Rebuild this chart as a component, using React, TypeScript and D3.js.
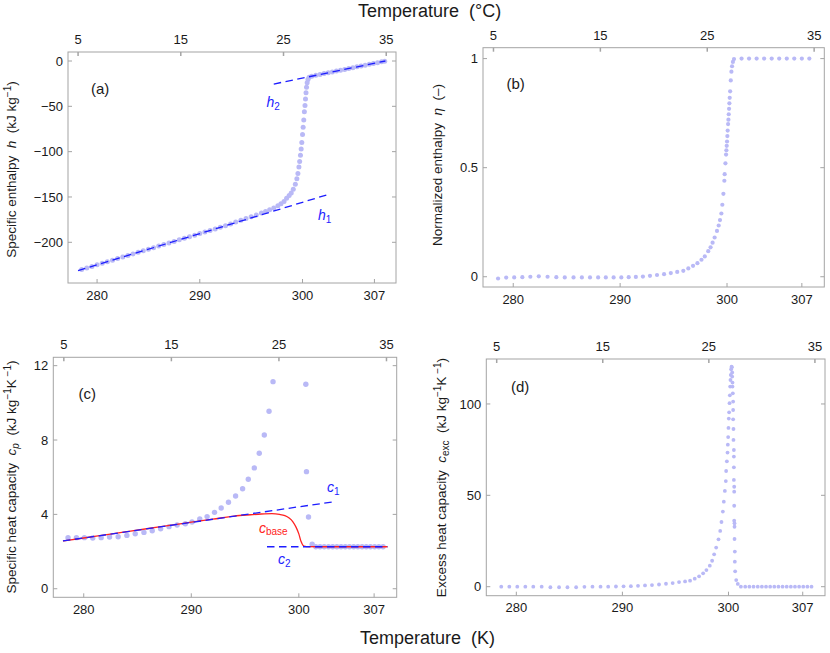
import React from 'react';
import * as d3 from 'd3';

// ---------- shared axis data ----------
const kelvinTicks = [280, 290, 300, 307];
const celsiusTicks = [5, 15, 25, 35];
const X_DOMAIN: [number, number] = [277.17, 309.1];

// ---------- (a) specific enthalpy ----------
const hT = [278.5, 279.0, 279.5, 280.0, 280.5, 281.0, 281.5, 282.0, 282.5, 283.0, 283.5, 284.0, 284.5, 285.0, 285.5, 286.0, 286.5, 287.0, 287.5, 288.0, 288.5, 289.0, 289.5, 290.0, 290.5, 291.0, 291.5, 292.0, 292.5, 293.0, 293.5, 294.0, 294.5, 295.0, 295.5, 296.0, 296.4, 296.8, 297.2, 297.6, 297.9, 298.2, 298.45, 298.7, 298.9, 299.1, 299.3, 299.45, 299.55, 299.65, 299.72, 299.8, 299.87, 299.93, 300.0, 300.06, 300.12, 300.18, 300.24, 300.29, 300.34, 300.39, 300.45, 300.53, 300.64, 300.9, 301.3, 301.7, 302.1, 302.5, 302.9, 303.3, 303.7, 304.1, 304.5, 304.9, 305.3, 305.7, 306.1, 306.5, 306.9, 307.3, 307.7, 308.0];
const hValues = [-230.1, -228.4, -226.6, -224.9, -223.2, -221.5, -219.7, -218.0, -216.3, -214.6, -212.8, -211.1, -209.4, -207.6, -205.9, -204.2, -202.5, -200.7, -199.0, -197.3, -195.6, -193.8, -192.1, -190.4, -188.7, -186.9, -185.2, -183.5, -181.7, -179.7, -177.6, -175.6, -173.7, -171.8, -169.8, -167.8, -166.0, -164.2, -162.2, -159.8, -157.6, -155.0, -151.5, -148.5, -145.5, -141.5, -136.0, -130.0, -124.0, -117.0, -111.0, -104.0, -97.0, -90.0, -81.0, -73.0, -65.0, -56.0, -49.0, -42.0, -35.0, -29.0, -24.0, -20.5, -18.0, -16.7, -15.8, -14.9, -13.9, -13.0, -12.1, -11.1, -10.2, -9.3, -8.3, -7.4, -6.4, -5.5, -4.6, -3.6, -2.7, -1.8, -0.8, -0.2];
const h1T = [278.15, 302.33];
const h1V = [-231.3, -147.8];
const h2T = [297.2, 308.07];
const h2V = [-25.4, 0];
const hTicks = [0, -50, -100, -150, -200];

// ---------- (b) normalized enthalpy ----------
const etaT = [278.58, 279.34, 280.09, 280.85, 281.6, 282.39, 283.21, 284.03, 284.82, 285.64, 286.42, 287.18, 287.94, 288.66, 289.39, 290.11, 290.8, 291.47, 292.13, 292.79, 293.45, 294.11, 294.74, 295.34, 295.91, 296.38, 296.82, 297.23, 297.61, 297.92, 298.24, 298.46, 298.65, 298.84, 299.06, 299.22, 299.34, 299.47, 299.56, 299.66, 299.75, 299.78, 299.85, 299.91, 299.94, 299.97, 300.0, 300.03, 300.06, 300.1, 300.13, 300.16, 300.19, 300.22, 300.25, 300.29, 300.35, 300.41, 300.47, 300.55, 300.65, 301.36, 302.06, 302.77, 303.47, 304.18, 304.88, 305.59, 306.29, 307.0, 307.7];
const etaValues = [-0.008, -0.004, -0.003, -0.002, 0.0, 0.002, 0.0, -0.002, -0.003, -0.003, -0.003, -0.003, -0.003, -0.003, -0.003, -0.003, -0.002, -0.001, 0.001, 0.004, 0.008, 0.012, 0.017, 0.022, 0.027, 0.038, 0.05, 0.062, 0.078, 0.093, 0.117, 0.135, 0.156, 0.18, 0.21, 0.235, 0.26, 0.29, 0.33, 0.38, 0.44, 0.47, 0.52, 0.56, 0.58, 0.6, 0.62, 0.645, 0.67, 0.7, 0.72, 0.745, 0.77, 0.795, 0.82, 0.85, 0.9, 0.94, 0.965, 0.985, 0.998, 1, 1, 1, 1, 1, 1, 1, 1, 1, 1];
const etaTicks = [0, 0.5, 1];

// ---------- (c) specific heat capacity ----------
const cpT = [278.54, 279.32, 280.06, 280.84, 281.62, 282.4, 283.2, 284.01, 284.79, 285.6, 286.37, 287.15, 287.93, 288.68, 289.45, 290.07, 290.79, 291.47, 292.16, 292.78, 293.46, 294.12, 294.77, 295.3, 295.86, 296.32, 296.79, 297.23, 297.6, 300.65, 300.71, 300.9, 301.24, 301.58, 301.97, 302.36, 302.76, 303.15, 303.54, 303.93, 304.32, 304.71, 305.1, 305.49, 305.88, 306.27, 306.66, 307.05, 307.44, 307.83];
const cpValues = [2.75, 2.75, 2.75, 2.73, 2.75, 2.78, 2.8, 2.87, 2.96, 3.03, 3.12, 3.23, 3.34, 3.43, 3.5, 3.59, 3.75, 3.88, 4.11, 4.34, 4.65, 4.99, 5.38, 5.89, 6.5, 7.29, 8.27, 9.55, 11.14, 11.0, 6.3, 3.86, 2.4, 2.26, 2.26, 2.26, 2.26, 2.26, 2.26, 2.26, 2.26, 2.26, 2.26, 2.26, 2.26, 2.26, 2.26, 2.26, 2.26, 2.26];
const cbaseT = [278.07, 280, 282, 284, 286, 288, 290, 292, 294, 295.5, 296.5, 297.5, 298.2, 298.7, 299.1, 299.45, 299.75, 300.0, 300.2, 300.4, 300.6, 300.8, 302, 304, 306, 308.24];
const cbaseV = [2.57, 2.73, 2.9, 3.07, 3.24, 3.41, 3.58, 3.74, 3.91, 3.98, 4.02, 4.04, 4.0, 3.93, 3.8, 3.6, 3.3, 2.95, 2.55, 2.33, 2.28, 2.265, 2.26, 2.26, 2.26, 2.26];
const c1T = [278.07, 303.26];
const c1V = [2.57, 4.68];
const c2T = [297.04, 308.24];
const c2V = [2.26, 2.26];
const cpTicks = [0, 4, 8, 12];

// ---------- (d) excess heat capacity ----------
const excT = [278.58, 279.34, 280.09, 280.85, 281.6, 282.39, 283.21, 284.03, 284.82, 285.64, 286.42, 287.18, 287.94, 288.66, 289.39, 290.11, 290.8, 291.47, 292.13, 292.79, 293.45, 294.11, 294.74, 295.34, 295.91,
  296.38, 296.82, 297.23, 297.61, 297.92, 298.24, 298.46, 298.65, 298.84, 299.06, 299.22, 299.34, 299.47, 299.56, 299.66, 299.75, 299.78, 299.85, 299.91, 299.94, 299.97, 300.0, 300.03, 300.06, 300.1, 300.13, 300.16, 300.19, 300.22, 300.25, 300.29,
  300.32, 300.35, 300.35, 300.38, 300.38, 300.41, 300.44, 300.44, 300.44, 300.47, 300.47, 300.51, 300.51, 300.51, 300.51, 300.54, 300.54, 300.54, 300.54, 300.57, 300.57, 300.57, 300.6, 300.6, 300.63, 300.73, 300.88, 301.17,
  301.58, 301.97, 302.36, 302.76, 303.15, 303.54, 303.93, 304.32, 304.71, 305.1, 305.49, 305.88, 306.27, 306.66, 307.05, 307.44, 307.83];
const excValues = [0, 0, 0, 0, 0, 0, -0.3, -0.3, -0.3, -0.3, -0.1, 0, 0, 0, 0.1, 0.2, 0.3, 0.5, 0.7, 0.9, 1.2, 1.6, 2.0, 2.5, 2.9,
  3.3, 4.4, 5.7, 7.3, 9.1, 11.5, 14.2, 17.7, 21.4, 25.9, 30.5, 35.4, 41.1, 46.5, 52.4, 57.8, 63.3, 68.6, 73.4, 77.7, 81.9, 86.9, 92.0, 95.4, 100.4, 104.7, 109.5, 113.1, 115.9, 119.0, 120.4,
  120.1, 117.2, 115.0, 111.7, 109.5, 105.8, 101.3, 96.7, 91.6, 86.3, 80.3, 74.8, 71.2, 65.3, 58.4, 54.7, 52.0, 44.3, 36.1, 34.7, 32.8, 26.1, 19.2, 13.7, 8.4, 3.6, 1.5, 0,
  0, 0, 0, 0, 0, 0, 0, 0, 0, 0, 0, 0, 0, 0, 0, 0, 0];
const excTicks = [0, 50, 100];

// ---------- styles ----------
const FONT = "'Liberation Sans', Arial, Helvetica, sans-serif";
const FRAME = '#a4a4a4';
const DOT = '#b9b9f6';
const BLUE = '#1d1dff';
const RED = '#ff2222';
const TXT = '#1a1a1a';
const DASH = '7.5,4.5';

type Box = { x0: number; x1: number; y0: number; y1: number };
type Scale = d3.ScaleLinear<number, number>;

const fmtNum = (v: number) => (v < 0 ? '\u2212' + Math.abs(v) : String(v));
const zip = (a: number[], b: number[]) => d3.range(Math.min(a.length, b.length)).map((i) => [a[i], b[i]] as [number, number]);

function Panel({ box, yDomain, yTicks, render }: { box: Box; yDomain: [number, number]; yTicks: number[]; render: (x: Scale, y: Scale) => React.ReactNode }) {
  const x = d3.scaleLinear().domain(X_DOMAIN).range([box.x0, box.x1]);
  const y = d3.scaleLinear().domain(yDomain).range([box.y1, box.y0]);
  const tl = 4;
  return (
    <g>
      {render(x, y)}
      <rect x={box.x0} y={box.y0} width={box.x1 - box.x0} height={box.y1 - box.y0} fill="none" stroke={FRAME} strokeWidth={1} />
      {kelvinTicks.map((t) => (
        <g key={'k' + t}>
          <line x1={x(t)} x2={x(t)} y1={box.y1} y2={box.y1 - tl} stroke={FRAME} />
          <text x={x(t)} y={box.y1 + 16.5} textAnchor="middle" fontSize={13} fill={TXT}>{t}</text>
        </g>
      ))}
      {celsiusTicks.map((c) => (
        <g key={'c' + c}>
          <line x1={x(c + 273.15)} x2={x(c + 273.15)} y1={box.y0} y2={box.y0 + tl} stroke={FRAME} strokeWidth={1.5} />
          <text x={x(c + 273.15)} y={box.y0 - 8} textAnchor="middle" fontSize={13} fill={TXT}>{c}</text>
        </g>
      ))}
      {yTicks.map((t) => (
        <g key={'y' + t}>
          <line x1={box.x0} x2={box.x0 + tl} y1={y(t)} y2={y(t)} stroke={FRAME} />
          <line x1={box.x1} x2={box.x1 - tl} y1={y(t)} y2={y(t)} stroke={FRAME} />
          <text x={box.x0 - 5} y={y(t) + 4.6} textAnchor="end" fontSize={13} fill={TXT}>{fmtNum(t)}</text>
        </g>
      ))}
    </g>
  );
}

function Dots({ data, x, y, r }: { data: [number, number][]; x: Scale; y: Scale; r: number }) {
  return (
    <g>
      {data.map((d, i) => (
        <circle key={i} cx={x(d[0])} cy={y(d[1])} r={r} fill={DOT} />
      ))}
    </g>
  );
}

function DashedLine({ data, x, y, color }: { data: [number, number][]; x: Scale; y: Scale; color: string }) {
  const line = d3.line<[number, number]>().x((d) => x(d[0])).y((d) => y(d[1]));
  return <path d={line(data) || ''} fill="none" stroke={color} strokeWidth={1.3} strokeDasharray={DASH} />;
}

const SUP = 10;

export default function App() {
  React.useEffect(() => {
    document.body.style.margin = '0';
  }, []);

  const boxA: Box = { x0: 68, x1: 396, y0: 52, y1: 283 };
  const boxB: Box = { x0: 483, x1: 824.3, y0: 47.7, y1: 287 };
  const boxC: Box = { x0: 53.3, x1: 396.7, y0: 357.3, y1: 597.3 };
  const boxD: Box = { x0: 486.3, x1: 825, y0: 359, y1: 595.7 };

  const titleFont = 13.5;

  return (
    <svg width={830} height={653} style={{ position: 'absolute', left: 0, top: 0, background: '#fff' }} fontFamily={FONT}>
      <rect x={0} y={0} width={830} height={653} fill="#fff" />
      {/* Global axis titles */}
      <text x={358} y={17} fontSize={18} fill={TXT} style={{ whiteSpace: 'pre' }}>Temperature  (°C)</text>
      <text x={360} y={644} fontSize={18} fill={TXT} style={{ whiteSpace: 'pre' }}>Temperature  (K)</text>

      {/* (a) */}
      <Panel
        box={boxA}
        yDomain={[-244.9, 9.93]}
        yTicks={hTicks}
        render={(x, y) => (
          <g>
            <Dots data={zip(hT, hValues)} x={x} y={y} r={2.5} />
            <DashedLine data={zip(h1T, h1V)} x={x} y={y} color={BLUE} />
            <DashedLine data={zip(h2T, h2V)} x={x} y={y} color={BLUE} />
            <text x={266.5} y={106.5} fontSize={14} fill={BLUE} fontStyle="italic">h<tspan fontSize={SUP} dy={3} fontStyle="normal">2</tspan></text>
            <text x={318} y={219.5} fontSize={14} fill={BLUE} fontStyle="italic">h<tspan fontSize={SUP} dy={3} fontStyle="normal">1</tspan></text>
          </g>
        )}
      />
      <text x={91} y={93.5} fontSize={15} fill={TXT}>(a)</text>
      <text transform={`translate(16,${169.5}) rotate(-90)`} textAnchor="middle" fontSize={titleFont} fill={TXT} style={{ whiteSpace: 'pre' }}>
        Specific enthalpy  <tspan fontStyle="italic">h</tspan>  (kJ kg<tspan fontSize={SUP} dy={-5}>−1</tspan><tspan dy={5}>)</tspan>
      </text>

      {/* (b) */}
      <Panel
        box={boxB}
        yDomain={[-0.047, 1.05]}
        yTicks={etaTicks}
        render={(x, y) => <Dots data={zip(etaT, etaValues)} x={x} y={y} r={2.1} />}
      />
      <text x={506.5} y={89} fontSize={15} fill={TXT}>(b)</text>
      <text transform={`translate(442,${165}) rotate(-90)`} textAnchor="middle" fontSize={titleFont} fill={TXT} style={{ whiteSpace: 'pre' }}>
        Normalized enthalpy  <tspan fontStyle="italic">η</tspan>  (–)
      </text>

      {/* (c) */}
      <Panel
        box={boxC}
        yDomain={[-0.46, 12.45]}
        yTicks={cpTicks}
        render={(x, y) => {
          const base = d3
            .line<[number, number]>()
            .x((d) => x(d[0]))
            .y((d) => y(d[1]))
            .curve(d3.curveMonotoneX);
          return (
            <g>
              <Dots data={zip(cpT, cpValues)} x={x} y={y} r={2.7} />
              <path d={base(zip(cbaseT, cbaseV)) || ''} fill="none" stroke={RED} strokeWidth={1.3} />
              <DashedLine data={zip(c1T, c1V)} x={x} y={y} color={BLUE} />
              <DashedLine data={zip(c2T, c2V)} x={x} y={y} color={BLUE} />
              <text x={327} y={491.5} fontSize={14} fill={BLUE} fontStyle="italic">c<tspan fontSize={SUP} dy={3} fontStyle="normal">1</tspan></text>
              <text x={278} y={564} fontSize={14} fill={BLUE} fontStyle="italic">c<tspan fontSize={SUP} dy={3} fontStyle="normal">2</tspan></text>
              <text x={259} y={532.5} fontSize={14} fill={RED} fontStyle="italic">c<tspan fontSize={SUP} dy={2.5} fontStyle="normal">base</tspan></text>
            </g>
          );
        }}
      />
      <text x={78.5} y={398.5} fontSize={15} fill={TXT}>(c)</text>
      <text transform={`translate(16,${477}) rotate(-90)`} textAnchor="middle" fontSize={titleFont} fill={TXT} style={{ whiteSpace: 'pre' }}>
        Specific heat capacity  <tspan fontStyle="italic">c</tspan><tspan fontStyle="italic" fontSize={SUP} dy={3}>p</tspan><tspan dy={-3}>  (kJ kg</tspan><tspan fontSize={SUP} dy={-5}>−1</tspan><tspan dy={5}>K</tspan><tspan fontSize={SUP} dy={-5}> −1</tspan><tspan dy={5}>)</tspan>
      </text>

      {/* (d) */}
      <Panel
        box={boxD}
        yDomain={[-4.93, 124.6]}
        yTicks={excTicks}
        render={(x, y) => <Dots data={zip(excT, excValues)} x={x} y={y} r={1.9} />}
      />
      <text x={511} y={392} fontSize={15} fill={TXT}>(d)</text>
      <text transform={`translate(446,${477.5}) rotate(-90)`} textAnchor="middle" fontSize={titleFont} fill={TXT} style={{ whiteSpace: 'pre' }}>
        Excess heat capacity  <tspan fontStyle="italic">c</tspan><tspan fontSize={SUP} dy={3}>exc</tspan><tspan dy={-3}>  (kJ kg</tspan><tspan fontSize={SUP} dy={-5}>−1</tspan><tspan dy={5}>K</tspan><tspan fontSize={SUP} dy={-5}> −1</tspan><tspan dy={5}>)</tspan>
      </text>
    </svg>
  );
}
